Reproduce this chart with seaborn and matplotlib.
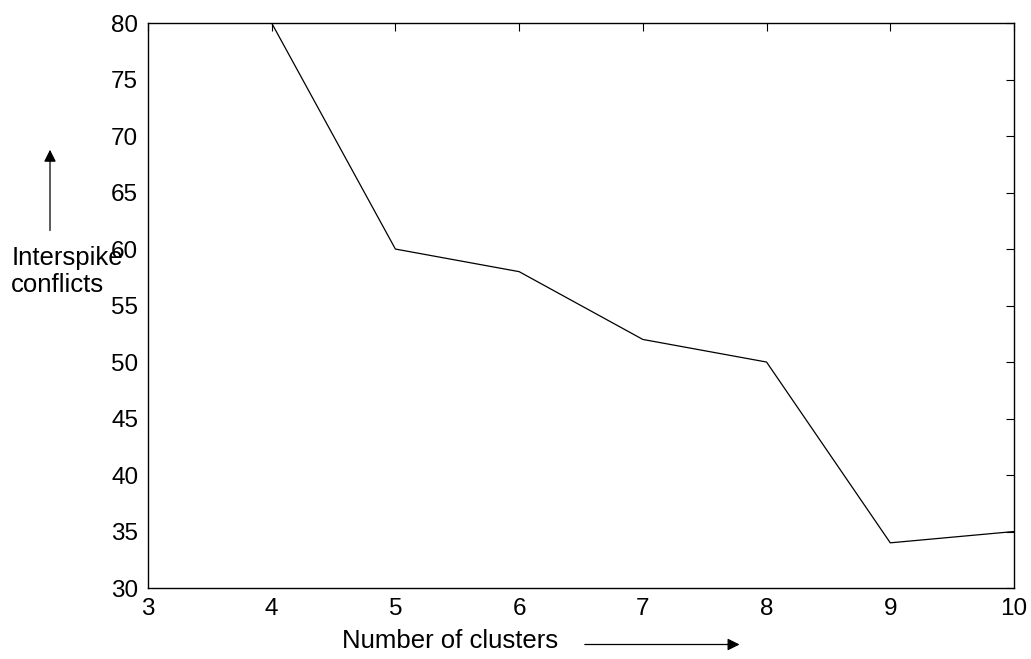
import matplotlib
matplotlib.use("Agg")
import matplotlib.pyplot as plt
import seaborn as sns
import pandas as pd

# values (x=3 sits on the top border)
clusters = [3, 4, 5, 6, 7, 8, 9, 10]
conflicts = [80, 80, 60, 58, 52, 50, 34, 35]

x_ticks = [3, 4, 5, 6, 7, 8, 9, 10]
y_ticks = [30, 35, 40, 45, 50, 55, 60, 65, 70, 75, 80]

sns.set_style("white")
plt.rcParams["font.family"] = ["Liberation Sans", "DejaVu Sans"]
plt.rcParams["text.color"] = "black"

data = pd.DataFrame({"clusters": clusters, "conflicts": conflicts})

fig = plt.figure(figsize=(10.31, 6.59), dpi=100)
ax = fig.add_axes([0.1435, 0.1077, 0.8400, 0.8573])

sns.lineplot(data=data, x="clusters", y="conflicts", ax=ax,
             color="black", linewidth=0.9)

ax.set_xlim(3, 10)
ax.set_ylim(30, 80)
ax.set_xticks(x_ticks)
ax.set_yticks(y_ticks)
ax.tick_params(direction="in", length=6, width=0.8, labelsize=17.5,
               top=True, right=True, colors="black", pad=7)
for side in ax.spines.values():
    side.set_visible(True)
    side.set_color("black")
    side.set_linewidth(1.0)
ax.set_xlabel("")
ax.set_ylabel("")

# axis captions with arrows, placed like the original figure
# (the y caption runs into the "60" label in the original too)
fig.text(0.011, 0.588, "Interspike\nconflicts", fontsize=18.5,
         ha="left", va="center", linespacing=1.15, color="black")
fig.text(0.332, 0.028, "Number of clusters", fontsize=18.5,
         ha="left", va="center", color="black")
fig.add_artist(matplotlib.patches.FancyArrowPatch(
    (0.0485, 0.646), (0.0485, 0.777), transform=fig.transFigure,
    arrowstyle="-|>", mutation_scale=18, color="black", linewidth=0.9))
fig.add_artist(matplotlib.patches.FancyArrowPatch(
    (0.5645, 0.022), (0.72, 0.022), transform=fig.transFigure,
    arrowstyle="-|>", mutation_scale=18, color="black", linewidth=0.9))

fig.savefig("out.png", dpi=100)
